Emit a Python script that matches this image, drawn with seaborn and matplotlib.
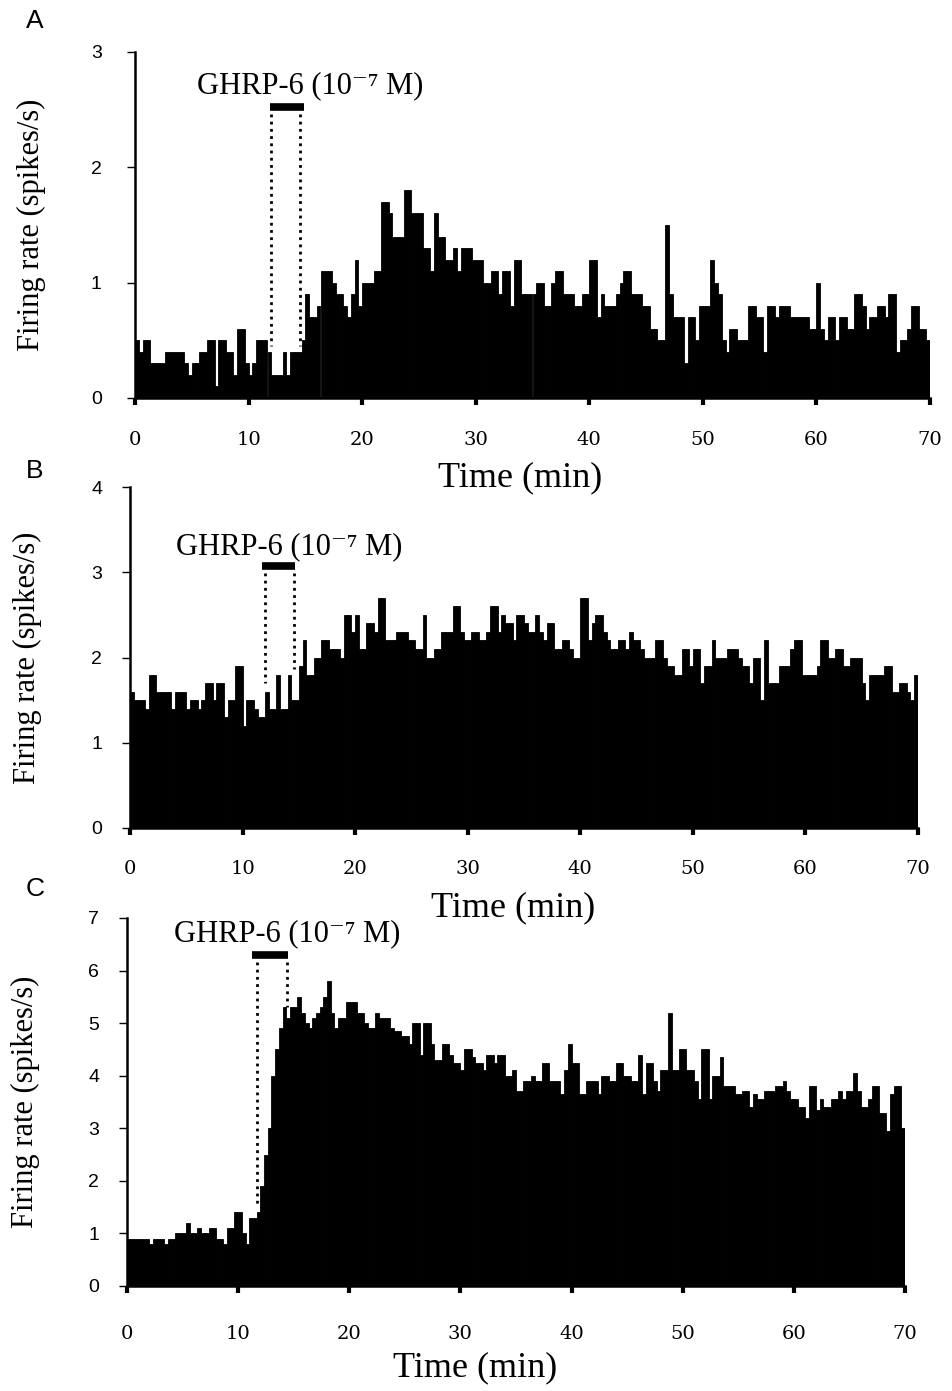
import numpy as np
import pandas as pd
import matplotlib
matplotlib.use("Agg")
import matplotlib.pyplot as plt
import seaborn as sns

# === Data: firing rate (spikes/s) in 20 s bins, 0-70 min ===
bin_edges = np.linspace(0, 70, 211)
bin_centers = (bin_edges[:-1] + bin_edges[1:]) / 2

rate_a = [
    0.5, 0.4, 0.5, 0.5, 0.3, 0.3, 0.3, 0.3, 0.4, 0.4, 0.4, 0.4, 0.4, 0.3, 0.2, 0.3, 0.3, 0.4, 0.4, 0.5,
    0.5, 0.1, 0.5, 0.5, 0.4, 0.4, 0.2, 0.6, 0.6, 0.3, 0.2, 0.3, 0.5, 0.5, 0.5, 0.4, 0.2, 0.2, 0.2, 0.4,
    0.2, 0.4, 0.4, 0.4, 0.5, 0.9, 0.7, 0.7, 0.8, 1.1, 1.1, 1.1, 1.0, 0.9, 0.9, 0.8, 0.7, 0.9, 1.2, 0.8,
    1.0, 1.0, 1.0, 1.1, 1.1, 1.7, 1.7, 1.6, 1.4, 1.4, 1.4, 1.8, 1.8, 1.6, 1.6, 1.6, 1.3, 1.3, 1.1, 1.6,
    1.4, 1.4, 1.2, 1.2, 1.3, 1.1, 1.3, 1.3, 1.3, 1.2, 1.2, 1.2, 1.0, 1.0, 1.1, 1.1, 0.9, 1.1, 1.1, 0.8,
    1.2, 1.2, 0.9, 0.9, 0.9, 0.9, 1.0, 1.0, 0.8, 0.8, 1.0, 1.1, 1.1, 0.9, 0.9, 0.9, 0.8, 0.8, 0.9, 0.9,
    1.2, 1.2, 0.7, 0.9, 0.8, 0.8, 0.8, 0.9, 1.0, 1.1, 1.1, 0.9, 0.9, 0.9, 0.8, 0.8, 0.6, 0.6, 0.5, 0.5,
    1.5, 0.9, 0.7, 0.7, 0.7, 0.3, 0.7, 0.7, 0.5, 0.8, 0.8, 0.8, 1.2, 1.0, 0.9, 0.5, 0.4, 0.6, 0.6, 0.5,
    0.5, 0.5, 0.8, 0.8, 0.7, 0.7, 0.4, 0.8, 0.8, 0.7, 0.8, 0.8, 0.8, 0.7, 0.7, 0.7, 0.7, 0.7, 0.6, 0.6,
    1.0, 0.6, 0.5, 0.7, 0.7, 0.5, 0.7, 0.7, 0.6, 0.6, 0.9, 0.9, 0.8, 0.6, 0.7, 0.7, 0.8, 0.8, 0.7, 0.9,
    0.9, 0.4, 0.5, 0.5, 0.6, 0.8, 0.8, 0.6, 0.6, 0.5,
]

rate_b = [
    1.6, 1.5, 1.5, 1.5, 1.4, 1.8, 1.8, 1.6, 1.6, 1.6, 1.6, 1.4, 1.6, 1.6, 1.6, 1.4, 1.5, 1.5, 1.4, 1.5,
    1.7, 1.7, 1.5, 1.7, 1.7, 1.3, 1.5, 1.5, 1.9, 1.9, 1.2, 1.5, 1.5, 1.4, 1.3, 1.3, 1.6, 1.4, 1.4, 1.8,
    1.4, 1.4, 1.8, 1.5, 1.5, 1.9, 2.2, 1.8, 1.8, 2.0, 2.0, 2.2, 2.2, 2.1, 2.1, 2.1, 2.0, 2.5, 2.5, 2.3,
    2.5, 2.1, 2.1, 2.4, 2.4, 2.3, 2.7, 2.7, 2.2, 2.2, 2.2, 2.3, 2.3, 2.3, 2.2, 2.2, 2.1, 2.1, 2.5, 2.0,
    2.0, 2.1, 2.1, 2.3, 2.3, 2.3, 2.6, 2.6, 2.3, 2.2, 2.2, 2.3, 2.3, 2.2, 2.2, 2.3, 2.6, 2.6, 2.3, 2.5,
    2.4, 2.4, 2.2, 2.5, 2.5, 2.4, 2.3, 2.3, 2.5, 2.3, 2.2, 2.4, 2.4, 2.1, 2.1, 2.2, 2.2, 2.1, 2.0, 2.0,
    2.7, 2.7, 2.2, 2.4, 2.5, 2.5, 2.3, 2.2, 2.1, 2.1, 2.2, 2.2, 2.1, 2.3, 2.2, 2.2, 2.1, 2.0, 2.0, 2.0,
    2.2, 2.2, 2.0, 1.9, 1.9, 1.8, 1.8, 2.1, 2.1, 1.9, 2.1, 2.1, 1.7, 1.9, 1.9, 2.2, 2.0, 2.0, 2.0, 2.1,
    2.1, 2.1, 2.0, 1.9, 1.9, 1.7, 2.0, 2.0, 1.5, 2.2, 1.7, 1.7, 1.7, 1.9, 1.9, 1.9, 2.1, 2.2, 2.2, 1.8,
    1.8, 1.8, 1.8, 1.9, 2.2, 2.2, 2.0, 2.0, 2.1, 2.1, 1.9, 1.9, 2.0, 2.0, 2.0, 1.7, 1.5, 1.8, 1.8, 1.8,
    1.8, 1.9, 1.9, 1.6, 1.6, 1.7, 1.7, 1.6, 1.5, 1.8,
]

rate_c = [
    0.9, 0.9, 0.9, 0.9, 0.9, 0.9, 0.8, 0.9, 0.9, 0.9, 0.8, 0.9, 0.9, 1.0, 1.0, 1.0, 1.2, 1.0, 1.0, 1.1,
    1.0, 1.0, 1.1, 1.1, 0.9, 0.9, 0.8, 1.1, 1.1, 1.4, 1.4, 1.0, 0.8, 1.3, 1.3, 1.4, 1.9, 2.5, 3.0, 4.0,
    4.5, 4.9, 5.3, 5.1, 5.3, 5.3, 5.5, 5.2, 5.0, 4.9, 5.1, 5.2, 5.3, 5.5, 5.8, 5.2, 4.9, 5.1, 5.1, 5.4,
    5.4, 5.4, 5.2, 5.2, 5.0, 4.9, 4.9, 5.2, 5.1, 5.1, 5.1, 4.9, 4.85, 4.85, 4.75, 4.75, 4.6, 5.0, 5.0, 4.4,
    5.0, 5.0, 4.6, 4.3, 4.3, 4.6, 4.6, 4.4, 4.25, 4.25, 4.1, 4.5, 4.5, 4.35, 4.25, 4.25, 4.1, 4.4, 4.4, 4.25,
    4.4, 4.4, 4.0, 4.0, 4.1, 3.7, 3.7, 3.9, 3.9, 4.0, 3.9, 3.9, 4.25, 4.25, 3.9, 3.9, 3.9, 3.65, 4.1, 4.6,
    4.25, 4.25, 3.65, 3.65, 3.9, 3.9, 3.9, 3.65, 4.0, 4.0, 3.9, 3.9, 4.25, 4.25, 4.0, 4.0, 3.9, 3.9, 4.4, 3.65,
    4.25, 4.25, 3.9, 3.7, 4.1, 4.1, 5.2, 4.1, 4.1, 4.5, 4.5, 4.1, 4.1, 3.9, 3.55, 4.5, 4.5, 3.55, 4.0, 4.0,
    4.35, 3.8, 3.8, 3.8, 3.65, 3.65, 3.7, 3.7, 3.4, 3.65, 3.55, 3.55, 3.7, 3.7, 3.7, 3.8, 3.8, 3.9, 3.7, 3.55,
    3.55, 3.4, 3.4, 3.2, 3.8, 3.8, 3.35, 3.55, 3.4, 3.4, 3.55, 3.55, 3.7, 3.55, 3.7, 3.7, 4.05, 3.7, 3.4, 3.4,
    3.55, 3.8, 3.8, 3.3, 3.3, 2.95, 3.65, 3.8, 3.8, 3.0,
]

panel_letters = ["A", "B", "C"]
y_max = [3, 4, 7]
drug_label = "GHRP-6 (10\u207b\u2077 M)"
x_ticks = list(range(0, 71, 10))

# === Style ===
sns.set_style("ticks")
for key in ["text.color", "axes.labelcolor", "xtick.color", "ytick.color", "axes.edgecolor"]:
    plt.rcParams[key] = "black"
serif = ["Liberation Serif", "DejaVu Serif"]

W, H = 953, 1391
fig = plt.figure(figsize=(W / 100, H / 100), dpi=100)

# axes boxes in pixels: (left x, right x, y of zero, y of top)
boxes = [(135, 930, 398, 52), (130, 918, 828, 487), (127, 905, 1286, 918)]
# drug bar (min start, min end, y), dotted lines (x1, bottom1, x2, bottom2), label (x, y)
drug = [
    dict(bar=(11.9, 14.9, 2.52), lines=(12.0, 0.45, 14.5, 0.45), text=(15.4, 2.71)),
    dict(bar=(11.7, 14.7, 3.07), lines=(12.0, 1.7, 14.6, 1.86), text=(14.1, 3.30)),
    dict(bar=(11.25, 14.5, 6.30), lines=(11.7, 1.5, 14.4, 5.3), text=(14.4, 6.70)),
]
letter_pos = [(35, 21), (35, 471), (35, 889)]
xlabel_pos = [(0.484, -0.231), (0.486, -0.235), (0.447, -0.223)]
xtick_pad = [19, 18, 23]
ytick_pad = [18, 14, 14]

for i, rates in enumerate([rate_a, rate_b, rate_c]):
    x0, x1, yb, yt = boxes[i]
    ax = fig.add_axes([x0 / W, 1 - yb / H, (x1 - x0) / W, (yb - yt) / H])
    ax.patch.set_visible(False)

    df = pd.DataFrame({"time": bin_centers, "rate": rates})
    sns.histplot(data=df, x="time", weights="rate", bins=list(bin_edges), element="bars",
                 color="black", edgecolor="black", linewidth=0.6, alpha=1, ax=ax)

    ax.set_xlim(0, 70)
    ax.set_ylim(0, y_max[i])
    ax.set_xticks(x_ticks)
    ax.set_yticks(range(0, y_max[i] + 1))
    for side in ["top", "right"]:
        ax.spines[side].set_visible(False)
    for side in ["left", "bottom"]:
        ax.spines[side].set_linewidth(1.8)

    ax.tick_params(axis="x", bottom=True, direction="out", length=5, width=3,
                   pad=xtick_pad[i], labelsize=14)
    ax.tick_params(axis="y", left=True, direction="out", length=6, width=1,
                   pad=ytick_pad[i], labelsize=14)
    for lab in ax.get_xticklabels():
        lab.set_fontfamily("DejaVu Serif")
    for lab in ax.get_yticklabels():
        lab.set_fontfamily("Liberation Sans")

    ax.set_xlabel("Time (min)", fontsize=26, family=serif, va="center")
    ax.xaxis.set_label_coords(*xlabel_pos[i])
    ax.set_ylabel("Firing rate (spikes/s)", fontsize=22, family=serif, va="center")
    ax.yaxis.set_label_coords(-0.130, 0.50)

    # drug application marker
    d = drug[i]
    bx0, bx1, by = d["bar"]
    ax.plot([bx0, bx1], [by, by], color="black", lw=5.5, solid_capstyle="butt")
    lx0, lb0, lx1, lb1 = d["lines"]
    top = by - 0.06 * y_max[i] / 3
    ax.plot([lx0, lx0], [top, lb0], color="black", lw=2, ls=(0, (1, 1.6)))
    ax.plot([lx1, lx1], [top, lb1], color="black", lw=2, ls=(0, (1, 1.6)))
    tx, ty = d["text"]
    ax.text(tx, ty, drug_label, fontsize=22, family=serif, ha="center", va="center")

    lx, ly = letter_pos[i]
    fig.text(lx / W, 1 - ly / H, panel_letters[i], fontsize=19, family="Liberation Sans",
             ha="center", va="center")

fig.savefig("out.png", dpi=100, facecolor="white")
plt.close(fig)
